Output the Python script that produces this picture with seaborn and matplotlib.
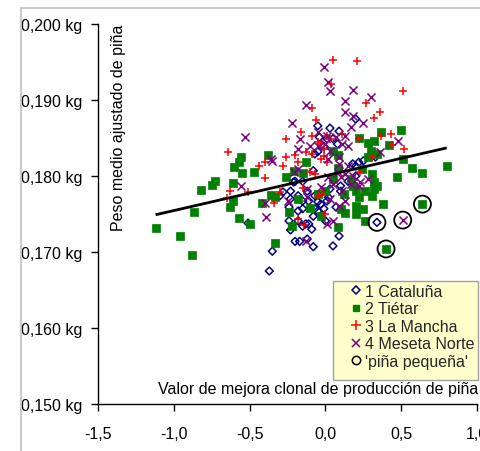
import matplotlib
matplotlib.use("Agg")
import matplotlib.pyplot as plt
from matplotlib.ticker import FixedLocator, FuncFormatter
from matplotlib.patches import Rectangle
from matplotlib.lines import Line2D
import seaborn as sns

# Clonal breeding value (x) and adjusted mean cone weight in kg (y) per provenance region
cataluna_x = [-0.51, -0.35, -0.37, -0.24, -0.23, -0.20, -0.17, -0.18, -0.18, -0.15,
              -0.18, -0.15, -0.12, -0.21, -0.12, -0.11, 0.22, 0.33, -0.08, -0.15,
              -0.20, -0.23, -0.30, -0.24, -0.13, -0.09, -0.08, 0.05, 0.09, 0.00,
              0.07, 0.01, -0.05, -0.07, 0.03, 0.10, 0.15, 0.20, 0.18, 0.25,
              -0.11, -0.05, 0.02, 0.10, -0.05, 0.03, 0.09, -0.04, 0.01, 0.05,
              -0.01, 0.08, -0.05, 0.20, -0.28, -0.23, -0.15, -0.07, -0.03, -0.01,
              -0.08, 0.20, -0.07, 0.34]
cataluna_y = [0.1738, 0.1701, 0.1675, 0.1741, 0.1729, 0.1714, 0.1714, 0.1774, 0.1754, 0.1757,
              0.1741, 0.1734, 0.1717, 0.1792, 0.1780, 0.1767, 0.1818, 0.1825, 0.1807, 0.1793,
              0.1793, 0.1780, 0.1774, 0.1759, 0.1737, 0.1730, 0.1707, 0.1708, 0.1721, 0.1741,
              0.1759, 0.1767, 0.1766, 0.1757, 0.1783, 0.1787, 0.1793, 0.1800, 0.1816, 0.1820,
              0.1737, 0.1754, 0.1772, 0.1780, 0.1866, 0.1863, 0.1859, 0.1851, 0.1849, 0.1849,
              0.1839, 0.1842, 0.1832, 0.1813, 0.1779, 0.1770, 0.1767, 0.1774, 0.1763, 0.1757,
              0.1747, 0.1875, 0.1829, 0.1739]

tietar_x = [-1.12, -0.96, -0.88, -0.87, -0.82, -0.75, -0.73, -0.60, -0.57, -0.56,
            -0.55, -0.61, -0.61, -0.63, -0.57, -0.50, -0.47, -0.42, -0.38, -0.36,
            -0.33, -0.33, -0.26, -0.24, -0.22, -0.21, -0.15, -0.13, -0.10, -0.18,
            -0.05, -0.03, 0.00, 0.05, 0.08, 0.08, 0.05, 0.10, 0.08, 0.13,
            0.12, 0.17, 0.18, 0.20, 0.20, 0.20, 0.22, 0.22, 0.24, 0.25,
            0.26, 0.26, 0.28, 0.28, 0.30, 0.31, 0.31, 0.32, 0.32, 0.34,
            0.34, 0.37, 0.38, 0.42, 0.47, 0.50, 0.51, 0.57, 0.64, 0.80,
            0.64, 0.40, 0.32]
tietar_y = [0.1732, 0.1721, 0.1696, 0.1753, 0.1782, 0.1788, 0.1793, 0.1812, 0.1818, 0.1825,
            0.1804, 0.1791, 0.1767, 0.1759, 0.1745, 0.1737, 0.1805, 0.1764, 0.1828, 0.1775,
            0.1772, 0.1712, 0.1799, 0.1753, 0.1734, 0.1807, 0.1804, 0.1818, 0.1758, 0.1770,
            0.1776, 0.1747, 0.1780, 0.1833, 0.1828, 0.1811, 0.1796, 0.1757, 0.1733, 0.1751,
            0.1776, 0.1796, 0.1787, 0.1780, 0.1761, 0.1750, 0.1772, 0.1850, 0.1809, 0.1757,
            0.1741, 0.1780, 0.1825, 0.1843, 0.1833, 0.1803, 0.1774, 0.1783, 0.1792, 0.1829,
            0.1787, 0.1858, 0.1763, 0.1841, 0.1799, 0.1861, 0.1822, 0.1811, 0.1804, 0.1813,
            0.1763, 0.1704, 0.1846]

mancha_x = [-0.64, -0.26, -0.16, -0.26, -0.20, -0.13, -0.18, -0.40, 0.05, 0.21,
            0.51, 0.27, 0.36, 0.32, -0.09, -0.06, 0.04, -0.09, 0.01, 0.11,
            0.03, -0.05, -0.01, 0.22, 0.37, 0.43, 0.44, 0.52, 0.31, -0.03,
            -0.44, -0.28, -0.40, -0.63, -0.65, -0.51, -0.34, -0.30, -0.15, -0.18,
            -0.14, -0.09, -0.07, -0.05, 0.00, -0.03, 0.23, 0.01, -0.02, -0.01,
            -0.10]
mancha_y = [0.1832, 0.1849, 0.1858, 0.1825, 0.1828, 0.1832, 0.1818, 0.1818, 0.1953, 0.1951,
            0.1912, 0.1896, 0.1884, 0.1876, 0.1889, 0.1874, 0.1921, 0.1853, 0.1853, 0.1855,
            0.1849, 0.1845, 0.1836, 0.1849, 0.1853, 0.1855, 0.1841, 0.1836, 0.1825, 0.1822,
            0.1813, 0.1813, 0.1797, 0.1780, 0.1771, 0.1779, 0.1764, 0.1779, 0.1784, 0.1743,
            0.1736, 0.1829, 0.1803, 0.1774, 0.1750, 0.1842, 0.1805, 0.1818, 0.1776, 0.1826,
            0.1805]

meseta_x = [-0.53, -0.22, -0.13, -0.17, -0.36, -0.01, 0.02, 0.03, 0.18, 0.13,
            0.30, 0.13, 0.18, 0.25, 0.13, 0.07, 0.15, 0.48, 0.36, -0.10,
            0.00, 0.09, 0.03, -0.56, -0.40, -0.39, -0.35, -0.25, -0.18, -0.12,
            -0.13, -0.18, -0.05, 0.11, 0.09, 0.08, 0.02, 0.05, 0.11, 0.01,
            0.05, 0.13, 0.23, -0.12, 0.09, 0.17, 0.13, -0.05, 0.01, 0.17,
            -0.21, 0.02, 0.15, 0.10, 0.18, 0.22, 0.28, 0.03, -0.03, 0.51]
meseta_y = [0.1851, 0.1870, 0.1893, 0.1849, 0.1822, 0.1943, 0.1924, 0.1912, 0.1913, 0.1899,
            0.1904, 0.1884, 0.1879, 0.1870, 0.1853, 0.1851, 0.1839, 0.1846, 0.1832, 0.1839,
            0.1842, 0.1825, 0.1833, 0.1787, 0.1764, 0.1746, 0.1820, 0.1767, 0.1809, 0.1783,
            0.1714, 0.1836, 0.1839, 0.1842, 0.1816, 0.1805, 0.1799, 0.1789, 0.1780, 0.1737,
            0.1741, 0.1767, 0.1792, 0.1772, 0.1761, 0.1789, 0.1803, 0.1858, 0.1853, 0.1864,
            0.1805, 0.1822, 0.1813, 0.1799, 0.1800, 0.1787, 0.1796, 0.1770, 0.1786, 0.1742]

# Clones flagged as small-cone ("piña pequeña")
pequena_x = [0.34, 0.51, 0.64, 0.40]
pequena_y = [0.1739, 0.1742, 0.1763, 0.1704]

# Linear trend across all clones (end points of the fitted line)
trend_x = [-1.12, 0.80]
trend_y = [0.1749, 0.1837]

series_labels = ["1 Cataluña", "2 Tiétar", "3 La Mancha", "4 Meseta Norte", "'piña pequeña'"]
x_ticks = [-1.5, -1.0, -0.5, 0.0, 0.5, 1.0]
y_ticks = [0.150, 0.160, 0.170, 0.180, 0.190, 0.200]

sns.set_theme(style="ticks")
plt.rcParams["font.family"] = ["Liberation Sans", "DejaVu Sans"]
FS = 11.5

W, H = 481, 452
fig = plt.figure(figsize=(W / 100, H / 100), dpi=100)
fig.patch.set_facecolor("white")
ax = fig.add_axes([98 / W, 1 - 405 / H, 379 / W, 380 / H])
ax.set_facecolor("white")

# Chart-area frame
fig.add_artist(Line2D([21 / W, 21 / W], [1 - 9 / H, 0], transform=fig.transFigure,
                      color="#c0c0c0", lw=1.2))
fig.add_artist(Line2D([21 / W, 1], [1 - 9 / H, 1 - 9 / H], transform=fig.transFigure,
                      color="#c0c0c0", lw=1.2))

sns.scatterplot(x=cataluna_x, y=cataluna_y, ax=ax, marker="D", s=16,
                facecolor="none", edgecolor="#000080", linewidth=1.1, zorder=3, legend=False)
sns.scatterplot(x=tietar_x, y=tietar_y, ax=ax, marker="s", s=26,
                color="#008000", edgecolor="#008000", linewidth=0.5, zorder=3, legend=False)
sns.scatterplot(x=mancha_x, y=mancha_y, ax=ax, marker="+", s=40,
                color="#ff0000", linewidth=1.1, zorder=3, legend=False)
sns.scatterplot(x=meseta_x, y=meseta_y, ax=ax, marker="x", s=34,
                color="#800080", linewidth=1.1, zorder=3, legend=False)
sns.scatterplot(x=pequena_x, y=pequena_y, ax=ax, marker="o", s=150,
                facecolor="none", edgecolor="black", linewidth=1.3, zorder=4, legend=False)

sns.lineplot(x=trend_x, y=trend_y, ax=ax, color="black", lw=2.0, zorder=6,
             solid_capstyle="butt", legend=False)

ax.set_xlim(-1.5, 1.0)
ax.set_ylim(0.150, 0.200)
ax.xaxis.set_major_locator(FixedLocator(x_ticks))
ax.yaxis.set_major_locator(FixedLocator(y_ticks))
ax.xaxis.set_major_formatter(FuncFormatter(lambda v, p: f"{v:.1f}".replace(".", ",")))
ax.yaxis.set_major_formatter(FuncFormatter(lambda v, p: f"{v:.3f} kg".replace(".", ",")))
ax.tick_params(axis="both", direction="out", length=5, width=1, color="black",
               labelsize=FS, labelcolor="black")
ax.tick_params(axis="x", pad=11)
ax.tick_params(axis="y", pad=6)
for side in ("top", "right"):
    ax.spines[side].set_visible(False)
for side in ("left", "bottom"):
    ax.spines[side].set_color("black")
    ax.spines[side].set_linewidth(1)
ax.set_xlabel("")
ax.set_ylabel("")

ax.text((118 - 98) / 379, 1.0, "Peso medio ajustado de piña", transform=ax.transAxes,
        rotation=90, ha="center", va="top", fontsize=FS, color="black")
ax.text(1.004, (405 - 390) / 380, "Valor de mejora clonal de producción de piña",
        transform=ax.transAxes, ha="right", va="center", fontsize=FS, color="black",
        zorder=7)

# Legend box
ax.add_patch(Rectangle(((333 - 98) / 379, (405 - 381) / 380), (478 - 333) / 379,
                       (381 - 282) / 380, transform=ax.transAxes, facecolor="#ffffcc",
                       edgecolor="#a0a0a0", lw=1, zorder=8, clip_on=False))
handles = [
    Line2D([], [], ls="none", marker="D", ms=4, mfc="none", mec="#000080", mew=1.1),
    Line2D([], [], ls="none", marker="s", ms=5, mfc="#008000", mec="#008000"),
    Line2D([], [], ls="none", marker="+", ms=7, mec="#ff0000", mew=1.1),
    Line2D([], [], ls="none", marker="x", ms=6, mec="#800080", mew=1.1),
    Line2D([], [], ls="none", marker="o", ms=6, mfc="none", mec="black", mew=1.1),
]
leg = ax.legend(handles, series_labels, loc="upper left",
                bbox_to_anchor=((350 - 98) / 379, (405 - 285) / 380),
                frameon=False, fontsize=FS, borderpad=0, borderaxespad=0,
                handlelength=0.8, handletextpad=0.15, labelspacing=0.15)
leg.set_zorder(9)

fig.savefig("out.png", dpi=100, facecolor="white")
